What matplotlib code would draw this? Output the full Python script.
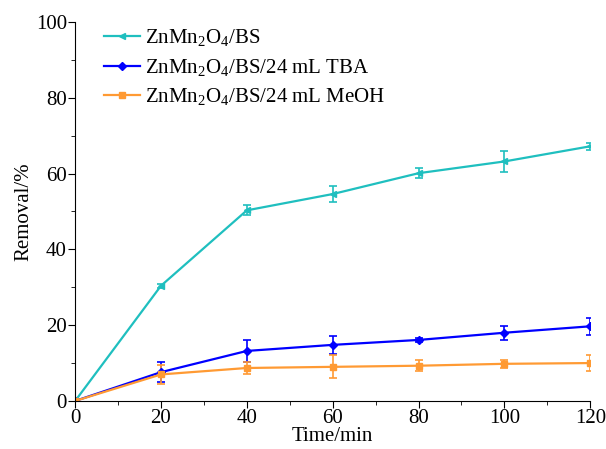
import matplotlib
matplotlib.use("Agg")
import matplotlib.pyplot as plt
from matplotlib.ticker import MultipleLocator
from matplotlib.lines import Line2D

plt.rcParams['font.family'] = ['Liberation Serif', 'DejaVu Serif']
plt.rcParams['mathtext.fontset'] = 'custom'
plt.rcParams['mathtext.rm'] = 'Liberation Serif'

time = [0, 20, 40, 60, 80, 100, 120]
bs = [0, 30.4, 50.3, 54.6, 60.1, 63.2, 67.2]
bs_err = [0, 0.5, 1.3, 2.2, 1.3, 2.7, 1.0]
tba = [0, 7.6, 13.2, 14.8, 16.1, 18.0, 19.7]
tba_err = [0, 2.7, 2.8, 2.3, 0.5, 1.8, 2.3]
meoh = [0, 7.0, 8.7, 9.0, 9.3, 9.8, 10.0]
meoh_err = [0, 2.5, 1.7, 3.0, 1.5, 1.0, 2.0]

labels = [r'ZnMn$_2$O$_4$/BS', r'ZnMn$_2$O$_4$/BS/24 mL TBA', r'ZnMn$_2$O$_4$/BS/24 mL MeOH']
colors = ['#1fbfbf', '#0000ff', '#ff9a33']
markers = ['<', 'D', 's']
msizes = [5, 4, 4]

fig = plt.figure(figsize=(6.06, 4.49), dpi=100)
ax = fig.add_axes([0.124, 0.107, 0.85, 0.844])

handles = []
for y, e, c, m, ms, lab in zip([bs, tba, meoh], [bs_err, tba_err, meoh_err], colors, markers, msizes, labels):
    ax.errorbar(time, y, yerr=e, color=c, marker=m, markersize=ms, lw=1.6,
                capsize=3, elinewidth=1.2, capthick=1.2)
    handles.append(Line2D([], [], color=c, marker=m, markersize=ms, lw=1.6, label=lab))

ax.set_xlim(0, 120)
ax.set_ylim(0, 100)
ax.xaxis.set_major_locator(MultipleLocator(20))
ax.xaxis.set_minor_locator(MultipleLocator(10))
ax.yaxis.set_major_locator(MultipleLocator(20))
ax.yaxis.set_minor_locator(MultipleLocator(10))
ax.spines['top'].set_visible(False)
ax.spines['right'].set_visible(False)
ax.tick_params(which='both', direction='out', labelsize=15, pad=1)
ax.tick_params(which='major', length=5)
ax.tick_params(which='minor', length=3)
ax.set_xlabel('Time/min', fontsize=15, labelpad=-1)
ax.set_ylabel('Removal/%', fontsize=15, labelpad=2)
ax.legend(handles=handles, loc='upper left', frameon=False, fontsize=15, handlelength=1.7,
          bbox_to_anchor=(0.02, 1.035), labelspacing=0.38, handletextpad=0.25)

fig.savefig('out.png', dpi=100)
